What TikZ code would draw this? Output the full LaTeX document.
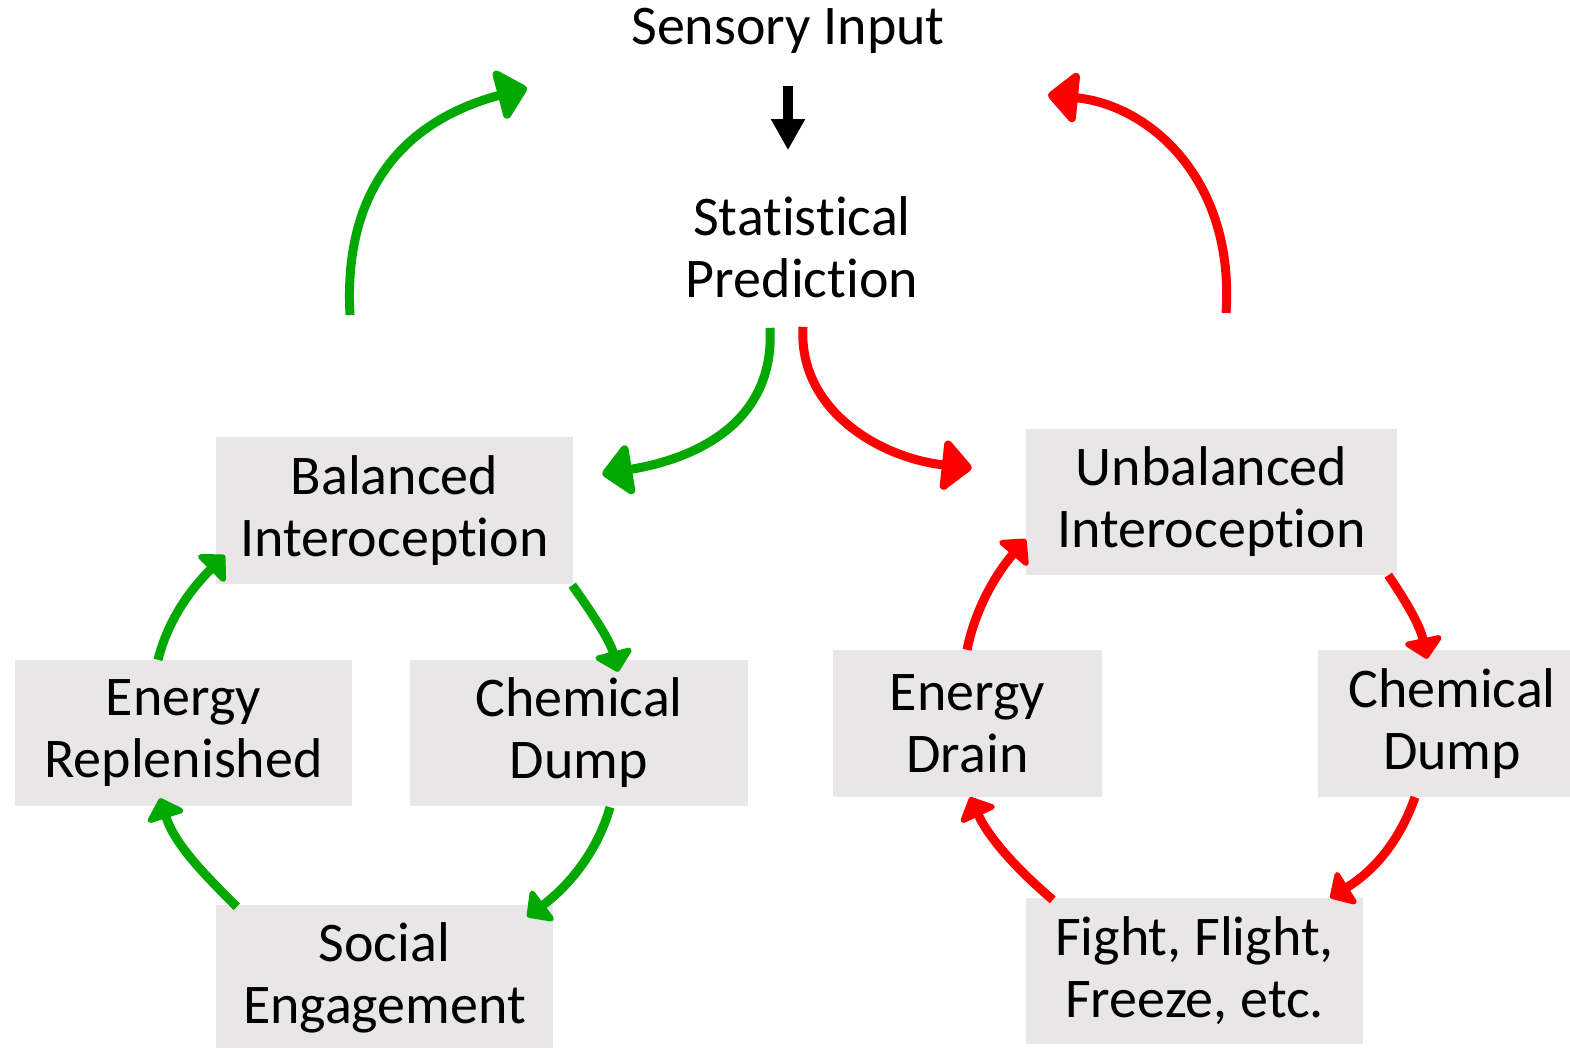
\documentclass[tikz,border=0pt]{standalone}
\usepackage{fontspec}
\setmainfont[Ligatures={NoCommon}]{Carlito}
\usetikzlibrary{arrows.meta,calc}
\definecolor{boxgray}{HTML}{E8E6E7}
\definecolor{okgreen}{HTML}{00A800}
\definecolor{badred}{HTML}{FF0000}
\tikzset{
  box/.style={fill=boxgray, inner sep=0pt, align=center, font=\fontsize{56}{62}\selectfont},
  plain/.style={inner sep=0pt, align=center, font=\fontsize{56}{62}\selectfont},
  bigarrow/.style={line width=9pt, -{Triangle[length=32pt,width=58pt,round]}},
  cycarrow/.style={line width=9pt, -{Triangle[length=22pt,width=44pt,round]}},
}
\begin{document}
\begin{tikzpicture}[x=1pt,y=-1pt]
\useasboundingbox (0,0) rectangle (1570,1048);
% text nodes
\node[plain] (sens) at (788,31) {Sensory Input};
\node[plain] (stat) at (802,247) {Statistical\\Prediction};
% left cycle
\node[box, minimum width=357pt, minimum height=147pt] (bal) at (394.5,510.5) {Balanced\\Interoception};
\node[box, minimum width=337pt, minimum height=146pt] (erep) at (183.5,733) {Energy\\Replenished};
\node[box, minimum width=338pt, minimum height=146pt] (cdl) at (579,733) {Chemical\\Dump};
\node[box, minimum width=337pt, minimum height=146pt] (soc) at (384.5,978) {Social\\Engagement};
% right cycle
\node[box, minimum width=371pt, minimum height=146pt] (unb) at (1211.5,502) {Unbalanced\\Interoception};
\node[box, minimum width=269pt, minimum height=147pt] (edr) at (967.5,723.5) {Energy\\Drain};
\node[box, minimum width=268pt, minimum height=147pt] (cdr) at (1452,723.5) {Chemical\\Dump};
\node[box, minimum width=337pt, minimum height=146pt] (ffz) at (1194.5,971) {Fight, Flight,\\Freeze, etc.};
% free ends
\coordinate (gl) at (350,315);
\coordinate (gt) at (527,88);
\coordinate (rr) at (1226,313);
\coordinate (rt) at (1048,95);
% top arrows
\draw[line width=10pt, -{Triangle[length=31pt,width=32pt]}] ($(sens.south)+(0,32)$) -- ($(stat.north)+(-14,-46)$);
\draw[bigarrow, okgreen] (gl) .. controls (342,170) and (425,115) .. (gt);
\draw[bigarrow, badred] (rr) .. controls (1235,180) and (1150,105) .. (rt);
\draw[bigarrow, okgreen] ($(stat.south)+(-32,30)$) .. controls (775,420) and (700,458) .. ($(bal.east)+(29,-36.5)$);
\draw[bigarrow, badred] ($(stat.south)+(1,29)$) .. controls (798,410) and (880,458) .. ($(unb.west)+(-54,-34)$);
% left cycle arrows
\draw[cycarrow, okgreen] ($(bal.south east)+(-1,1)$) .. controls (590,610) and (610,640) .. ($(cdl.north)+(39,12)$);
\draw[cycarrow, okgreen] ($(cdl.south)+(31,1)$) .. controls (598,850) and (570,885) .. ($(soc.north east)+(-26,12)$);
\draw[cycarrow, okgreen] ($(soc.north west)+(21,2)$) .. controls (205,875) and (175,845) .. ($(erep.south)+(-23.5,-8)$);
\draw[cycarrow, okgreen] ($(erep.north)+(-25.5,0)$) .. controls (168,620) and (190,590) .. ($(bal.south west)+(9,-29)$);
% right cycle arrows
\draw[cycarrow, badred] ($(unb.south east)+(-9,0)$) .. controls (1405,600) and (1420,625) .. ($(cdr.north)+(-25,9)$);
\draw[cycarrow, badred] ($(cdr.south)+(-37,0)$) .. controls (1400,840) and (1375,870) .. ($(ffz.north east)+(-33,0)$);
\draw[cycarrow, badred] ($(ffz.north west)+(27,2)$) .. controls (1020,872) and (990,840) .. ($(edr.south)+(2.5,0)$);
\draw[cycarrow, badred] ($(edr.north)+(-0.5,0)$) .. controls (975,610) and (995,575) .. ($(unb.south west)+(0,-36)$);
\end{tikzpicture}
\end{document}
